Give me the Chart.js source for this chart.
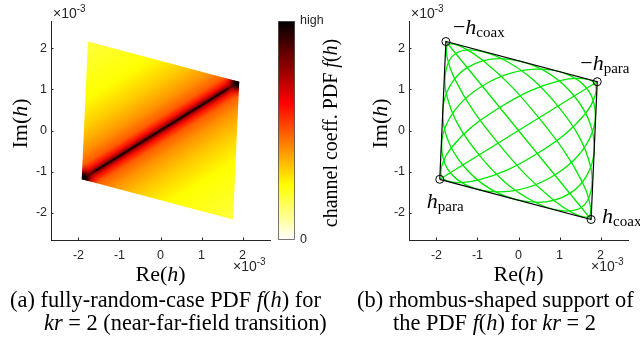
<!DOCTYPE html>
<html>
<head>
<meta charset="utf-8">
<script src="https://cdn.jsdelivr.net/npm/chart.js@4.4.1/dist/chart.umd.min.js"></script>
<style>
  body { margin: 0; background: #fff; }
  #page { position: relative; width: 640px; height: 347px; overflow: hidden; background: #fff; }
  #page canvas { position: absolute; top: 0; }
  .cap { position: absolute; font: 22.4px "Liberation Serif", "Times New Roman", serif; line-height: 23px; white-space: nowrap; color: #000; }
</style>
</head>
<body>
<div id="page">
  <canvas id="pdfChart" width="280" height="300" style="left:0"></canvas>
  <canvas id="barChart" width="75" height="300" style="left:270px"></canvas>
  <canvas id="supportChart" width="310" height="300" style="left:330px"></canvas>
  <div class="cap" style="left:10px;top:288px">(a) fully-random-case PDF <i>f</i>(<i>h</i>) for</div>
  <div class="cap" style="left:44px;top:311px"><i>kr</i> = 2 (near-far-field transition)</div>
  <div class="cap" style="left:357px;top:288px">(b) rhombus-shaped support of</div>
  <div class="cap" style="left:393px;top:311px">the PDF <i>f</i>(<i>h</i>) for <i>kr</i> = 2</div>
</div>
<script>
// all values in units of 1e-3
const tickVals = [-2, -1, 0, 1, 2];
const axisMin = -2.67, axisMax = 2.67;

// rhombus corners: h_para, h_coax, -h_para, -h_coax
const cornerRe = [-1.92, 1.77, 1.92, -1.77];
const cornerIm = [-1.19, -2.17, 1.19, 2.17];

// PDF across the rhombus: distance from the h_para diagonal (0) to the h_coax corners (1),
// and the colormap level there (0 = zero, 1 = high)
const pdfDist  = [0, 0.007, 0.02, 0.05, 0.1, 0.2, 0.36, 0.58, 1];
const pdfLevel = [1, 0.9, 0.75, 0.6, 0.49, 0.41, 0.33, 0.25, 0.19];

// green ellipses, 8 points read round each one
const ellipseRe = [
  [1.710, 0.858, -0.497, -1.560, -1.710, -0.858, 0.497, 1.560],
  [1.533, 0.405, -0.960, -1.763, -1.533, -0.405, 0.960, 1.763],
  [1.252, -0.075, -1.358, -1.845, -1.252, 0.075, 1.358, 1.845],
  [0.885, -0.550, -1.663, -1.802, -0.885, 0.550, 1.663, 1.802],
  [0.458, -0.987, -1.855, -1.635, -0.458, 0.987, 1.855, 1.635]
];
const ellipseIm = [
  [-2.096, -1.700, -0.308, 1.264, 2.096, 1.700, 0.308, -1.264],
  [-1.879, -1.750, -0.595, 0.908, 1.879, 1.750, 0.595, -0.908],
  [-1.534, -1.680, -0.841, 0.490, 1.534, 1.680, 0.841, -0.490],
  [-1.085, -1.496, -1.031, 0.038, 1.085, 1.496, 1.031, -0.038],
  [-0.562, -1.210, -1.149, -0.416, 0.562, 1.210, 1.149, 0.416]
];

const cornerLabels = [
  { sign: '', sub: 'para', dx: -13, dy: 29 },
  { sign: '', sub: 'coax', dx: 11, dy: 4 },
  { sign: '\u2212', sub: 'para', dx: -17, dy: -12 },
  { sign: '\u2212', sub: 'coax', dx: 7, dy: -8 }
];

const AXIS_COLOR = '#262626';
const SANS = '"Liberation Sans", Arial, sans-serif';
const SERIF = '"Liberation Serif", "Times New Roman", serif';
const GREEN = '#00e800';

// reversed "hot" colormap: 0 -> white, 1 -> black
function hotReversed(level) {
  const m = 1 - level;
  const c = v => Math.round(255 * Math.min(1, Math.max(0, v)));
  return `rgb(${c(m / 0.375)},${c((m - 0.375) / 0.375)},${c((m - 0.75) / 0.25)})`;
}

function pointsOf(re, im) {
  return re.map((x, i) => ({ x: x, y: im[i] }));
}

function drawRich(ctx, parts, x, y, align) {
  let w = 0;
  parts.forEach(p => { ctx.font = p.f; p.w = ctx.measureText(p.t).width; w += p.w; });
  let cx = align === 'center' ? x - w / 2 : x;
  ctx.textAlign = 'left';
  ctx.textBaseline = 'alphabetic';
  parts.forEach(p => { ctx.font = p.f; ctx.fillText(p.t, cx, y + (p.dy || 0)); cx += p.w; });
}

function drawExp(ctx, x, y) {
  drawRich(ctx, [
    { t: '\u00d710', f: '14px ' + SANS },
    { t: '-3', f: '10px ' + SANS, dy: -6 }
  ], x, y, 'left');
}

function mathLabel(name) {
  return [
    { t: name + '(', f: '22px ' + SERIF },
    { t: 'h', f: 'italic 22px ' + SERIF },
    { t: ')', f: '22px ' + SERIF }
  ];
}

function axis(pos, pad, size) {
  return {
    type: 'linear', position: pos, min: axisMin, max: axisMax,
    afterBuildTicks: s => { s.ticks = tickVals.map(v => ({ value: v })); },
    afterFit: s => { if (pos === 'bottom') s.height = size; else s.width = size; },
    grid: { display: false, drawTicks: false },
    border: { display: true, color: AXIS_COLOR, width: 1 },
    ticks: { font: { family: SANS, size: 12.5 }, color: AXIS_COLOR, padding: pad }
  };
}

function decor(imX, extra) {
  return {
    id: 'decor',
    afterDraw(chart) {
      const { ctx, chartArea: a } = chart;
      const sx = chart.scales.x, sy = chart.scales.y;
      ctx.save();
      ctx.strokeStyle = AXIS_COLOR;
      ctx.lineWidth = 1;
      tickVals.forEach(v => {
        const px = Math.round(sx.getPixelForValue(v)) + 0.5;
        ctx.beginPath(); ctx.moveTo(px, a.bottom); ctx.lineTo(px, a.bottom - 2.5); ctx.stroke();
        const py = Math.round(sy.getPixelForValue(v)) + 0.5;
        ctx.beginPath(); ctx.moveTo(a.left, py); ctx.lineTo(a.left + 2.5, py); ctx.stroke();
      });
      ctx.fillStyle = '#000';
      drawRich(ctx, mathLabel('Re'), (a.left + a.right) / 2, 281, 'center');
      ctx.save();
      ctx.translate(imX, 123.5);
      ctx.rotate(-Math.PI / 2);
      drawRich(ctx, mathLabel('Im'), 0, 0, 'center');
      ctx.restore();
      ctx.fillStyle = AXIS_COLOR;
      drawExp(ctx, a.left + 2, 18);
      drawExp(ctx, a.right - 37, 271);
      if (extra) extra(chart);
      ctx.restore();
    }
  };
}

function cornerPix(chart, i) {
  return { x: chart.scales.x.getPixelForValue(cornerRe[i]), y: chart.scales.y.getPixelForValue(cornerIm[i]) };
}

function pdfGradient(chart) {
  if (!chart.chartArea) return 'rgba(0,0,0,0)';
  const A = cornerPix(chart, 0), B = cornerPix(chart, 1), C = cornerPix(chart, 2);
  const cx = (A.x + C.x) / 2, cy = (A.y + C.y) / 2;
  const dx = C.x - A.x, dy = C.y - A.y, len = Math.hypot(dx, dy);
  const nx = -dy / len, ny = dx / len;
  const dB = nx * (B.x - cx) + ny * (B.y - cy);
  const g = chart.ctx.createLinearGradient(cx - nx * dB, cy - ny * dB, cx + nx * dB, cy + ny * dB);
  pdfDist.forEach((d, i) => {
    const col = hotReversed(pdfLevel[i]);
    g.addColorStop(0.5 - d / 2, col);
    g.addColorStop(0.5 + d / 2, col);
  });
  return g;
}

// darker PDF where the rhombus narrows at +-h_para
function cornerGlow(chart, i) {
  if (!chart.chartArea) return 'rgba(0,0,0,0)';
  const P = cornerPix(chart, i);
  const g = chart.ctx.createRadialGradient(P.x, P.y, 0, P.x, P.y, 17);
  g.addColorStop(0, 'rgba(0,0,0,1)');
  g.addColorStop(0.3, 'rgba(15,0,0,0.9)');
  g.addColorStop(0.6, 'rgba(170,0,0,0.45)');
  g.addColorStop(1, 'rgba(255,40,0,0)');
  return g;
}

const common = {
  responsive: false,
  animation: false,
  events: [],
  plugins: { legend: { display: false }, tooltip: { enabled: false } }
};

const rhombus = () => pointsOf(cornerRe.concat(cornerRe[0]), cornerIm.concat(cornerIm[0]));

// (a) PDF over the rhombus
new Chart(document.getElementById('pdfChart'), {
  type: 'scatter',
  data: {
    datasets: [0, 2].map(i => ({
      data: rhombus(), showLine: true, fill: 'shape', pointRadius: 0, borderWidth: 1,
      borderColor: 'rgba(0,0,0,0)',
      backgroundColor: c => cornerGlow(c.chart, i)
    })).concat([{
      data: rhombus(), showLine: true, fill: 'shape', pointRadius: 0, borderWidth: 1,
      borderColor: 'rgba(0,0,0,0)',
      backgroundColor: c => pdfGradient(c.chart)
    }])
  },
  options: Object.assign({}, common, {
    layout: { padding: { left: 11, top: 21, right: 10, bottom: 10 } },
    scales: { x: axis('bottom', 8, 50), y: axis('left', 4, 40) }
  }),
  plugins: [decor(26.5)]
});

// colorbar
const cbLevels = [0, 0.25, 0.625, 1];
new Chart(document.getElementById('barChart'), {
  type: 'bar',
  data: {
    labels: [''],
    datasets: [{
      data: [1], barPercentage: 1, categoryPercentage: 1,
      borderWidth: 0,
      backgroundColor: c => {
        const a = c.chart.chartArea;
        if (!a) return 'rgba(0,0,0,0)';
        const g = c.chart.ctx.createLinearGradient(0, a.bottom, 0, a.top);
        cbLevels.forEach(l => g.addColorStop(l, hotReversed(l)));
        return g;
      }
    }]
  },
  options: Object.assign({}, common, {
    layout: { padding: { left: 8, top: 21, right: 10, bottom: 60 } },
    scales: {
      x: { display: false },
      y: {
        position: 'right', min: 0, max: 1,
        afterBuildTicks: s => { s.ticks = [{ value: 0 }, { value: 1 }]; },
        afterFit: s => { s.width = 40; },
        grid: { display: false, drawTicks: false },
        border: { display: false },
        ticks: { font: { family: SANS, size: 12.5 }, color: AXIS_COLOR, padding: 5,
                 callback: v => (v === 1 ? 'high' : '0') }
      }
    }
  }),
  plugins: [{
    id: 'cbDecor',
    afterDraw(chart) {
      const { ctx, chartArea: a } = chart;
      ctx.save();
      ctx.strokeStyle = '#555';
      ctx.lineWidth = 0.8;
      ctx.strokeRect(a.left + 0.5, a.top + 0.5, a.right - a.left - 1, a.bottom - a.top - 1);
      ctx.fillStyle = '#000';
      ctx.translate(67, 133);
      ctx.rotate(-Math.PI / 2);
      drawRich(ctx, [
        { t: 'channel coeff. PDF ', f: '20px ' + SERIF },
        { t: 'f', f: 'italic 20px ' + SERIF },
        { t: '(', f: '20px ' + SERIF },
        { t: 'h', f: 'italic 20px ' + SERIF },
        { t: ')', f: '20px ' + SERIF }
      ], 0, 0, 'center');
      ctx.restore();
    }
  }]
});

// (b) rhombus support with the ellipses
const supportSets = [];
supportSets.push({
  data: pointsOf(cornerRe, cornerIm), showLine: false,
  pointRadius: 4, pointStyle: 'circle', pointBorderWidth: 1,
  pointBorderColor: '#000', pointBackgroundColor: 'rgba(0,0,0,0)'
});
supportSets.push({
  data: rhombus(), showLine: true, borderColor: '#000', borderWidth: 1.2, pointRadius: 0
});
supportSets.push({
  data: pointsOf([cornerRe[0], cornerRe[2]], [cornerIm[0], cornerIm[2]]),
  showLine: true, borderColor: GREEN, borderWidth: 1.3, pointRadius: 0
});
supportSets.push({
  data: pointsOf([cornerRe[3], cornerRe[1]], [cornerIm[3], cornerIm[1]]),
  showLine: true, borderColor: GREEN, borderWidth: 1.3, pointRadius: 0
});
ellipseRe.forEach((re, k) => {
  const pts = pointsOf(re, ellipseIm[k]);
  const loop = [pts[pts.length - 1]].concat(pts, [pts[0], pts[1]]);
  supportSets.push({
    data: loop, showLine: true, tension: 0.38, borderColor: GREEN, borderWidth: 1.3, pointRadius: 0,
    segment: {
      borderColor: c => (c.p0DataIndex === 0 || c.p1DataIndex === loop.length - 1) ? 'rgba(0,0,0,0)' : undefined
    }
  });
});

new Chart(document.getElementById('supportChart'), {
  type: 'scatter',
  data: { datasets: supportSets },
  options: Object.assign({}, common, {
    layout: { padding: { left: 39, top: 21, right: 12, bottom: 10 } },
    scales: { x: axis('bottom', 8, 50), y: axis('left', 4, 40) }
  }),
  plugins: [decor(57.3, chart => {
    const { ctx } = chart;
    ctx.fillStyle = '#000';
    cornerLabels.forEach((l, i) => {
      const P = cornerPix(chart, i);
      const parts = [];
      if (l.sign) parts.push({ t: l.sign, f: '22px ' + SERIF });
      parts.push({ t: 'h', f: 'italic 22px ' + SERIF });
      parts.push({ t: l.sub, f: '15px ' + SERIF, dy: 3 });
      drawRich(ctx, parts, P.x + l.dx, P.y + l.dy, 'left');
    });
  })]
});
</script>
</body>
</html>
